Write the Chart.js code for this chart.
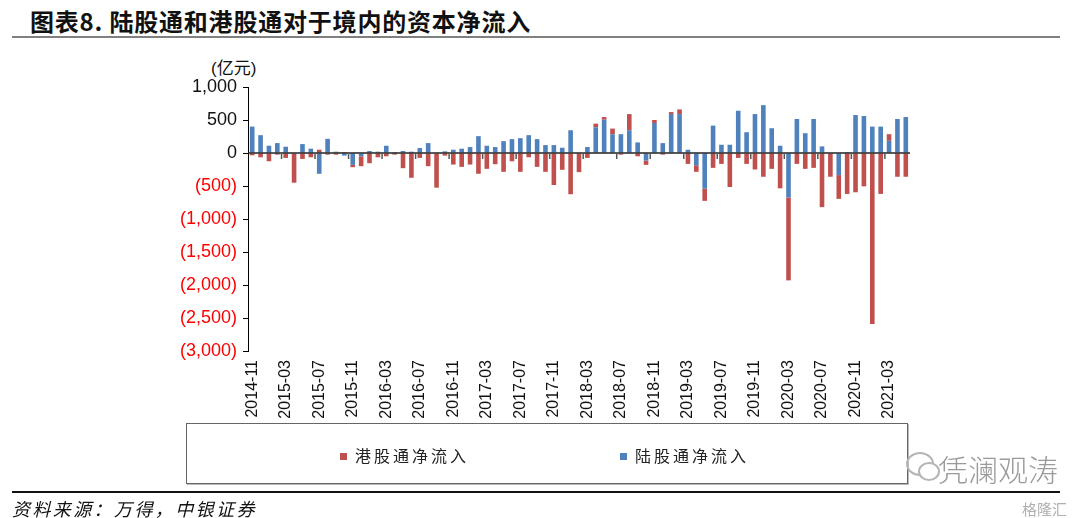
<!DOCTYPE html>
<html>
<head>
<meta charset="utf-8">
<script src="https://cdn.jsdelivr.net/npm/chart.js@4.4.0/dist/chart.umd.min.js"></script>
<style>
body { margin: 0; width: 1080px; height: 518px; background: #fff; position: relative; overflow: hidden; font-family: "Noto Sans CJK SC", sans-serif; }
#myChart { position: absolute; left: 0; top: 0; }
.title { position: absolute; left: 30px; top: 3px; font-size: 24px; font-weight: bold; letter-spacing: 0.8px; color: #111; }
.rule-top { position: absolute; left: 12px; top: 36px; width: 1048px; height: 2px; background: #808080; }
.unit { position: absolute; left: 211px; top: 54px; font-size: 17px; font-family: "Liberation Sans", "Noto Sans CJK SC", sans-serif; color: #111; }
.legend-box { position: absolute; left: 186px; top: 423px; width: 720px; height: 59px; border: 1px solid #666; box-shadow: 1px 1px 0 #bbb; }
.legend-item { position: absolute; top: 443px; font-size: 16px; letter-spacing: 3px; color: #222; }
.legend-item i { display: inline-block; width: 7px; height: 7px; margin-right: 8px; vertical-align: 2px; }
.rule-bottom { position: absolute; left: 12px; top: 491px; width: 1048px; height: 2px; background: #111; }
.source { position: absolute; left: 12px; top: 495px; font-size: 18px; font-style: italic; letter-spacing: 2.4px; color: #111; }
.mark { position: absolute; left: 938px; top: 446px; font-size: 30px; color: #9a9a9a; font-weight: 300; }
.mark-icon { position: absolute; left: 906px; top: 452px; width: 24px; height: 20px; border: 2px solid #b5b5b5; border-radius: 50%; }
.mark-icon2 { position: absolute; left: 918px; top: 462px; width: 18px; height: 15px; border: 2px solid #b5b5b5; border-radius: 50%; background: #fff; }
.gelonghui { position: absolute; left: 1022px; top: 498px; font-size: 15px; color: #b0b0b0; }
</style>
</head>
<body>
<div class="title">图表8. 陆股通和港股通对于境内的资本净流入</div>
<div class="rule-top"></div>
<div class="unit">(亿元)</div>
<canvas id="myChart" width="1080" height="518"></canvas>
<div class="legend-box"></div>
<div class="legend-item" style="left:340px;"><i style="background:#C0504D"></i>港股通净流入</div>
<div class="legend-item" style="left:620px;"><i style="background:#4F81BD"></i>陆股通净流入</div>
<div class="rule-bottom"></div>
<div class="source">资料来源：万得，中银证券</div>
<div class="mark-icon"></div><div class="mark-icon2"></div>
<div class="mark">凭澜观涛</div>
<div class="gelonghui">格隆汇</div>
<script>
// months 2014-11 .. 2021-05
var months = [
    '2014-11', '2014-12',
    '2015-01', '2015-02', '2015-03', '2015-04', '2015-05', '2015-06', '2015-07', '2015-08', '2015-09', '2015-10', '2015-11', '2015-12',
    '2016-01', '2016-02', '2016-03', '2016-04', '2016-05', '2016-06', '2016-07', '2016-08', '2016-09', '2016-10', '2016-11', '2016-12',
    '2017-01', '2017-02', '2017-03', '2017-04', '2017-05', '2017-06', '2017-07', '2017-08', '2017-09', '2017-10', '2017-11', '2017-12',
    '2018-01', '2018-02', '2018-03', '2018-04', '2018-05', '2018-06', '2018-07', '2018-08', '2018-09', '2018-10', '2018-11', '2018-12',
    '2019-01', '2019-02', '2019-03', '2019-04', '2019-05', '2019-06', '2019-07', '2019-08', '2019-09', '2019-10', '2019-11', '2019-12',
    '2020-01', '2020-02', '2020-03', '2020-04', '2020-05', '2020-06', '2020-07', '2020-08', '2020-09', '2020-10', '2020-11', '2020-12',
    '2021-01', '2021-02', '2021-03', '2021-04', '2021-05'
];

// 陆股通净流入 (亿元)
var northbound = [
    400, 270,
    110, 150, 95, -15, 135, 65, -315, 215, 20, -40, -180, -50,
    30, 20, 110, 15, 30, 20, 75, 150, 0, 25, 50, 65,
    90, 255, 110, 90, 180, 210, 225, 270, 210, 120, 120, 80,
    345, -10, 90, 390, 505, 285, 285, 345, 160, -115, 455, 150,
    590, 590, 50, -185, -540, 415, 125, 125, 640, 315, 590, 725,
    375, 110, -675, 515, 300, 515, 100, -10, -335, 15, 575, 560,
    400, 400, 185, 515, 545
];

// 港股通净流入 (亿元)
var southbound = [
    -35, -65,
    -125, -25, -75, -435, -90, -65, 50, -25, -25, 15, -35, -150,
    -155, -65, -50, -25, -230, -375, -75, -200, -525, -40, -175, -210,
    -175, -315, -240, -170, -285, -125, -285, -65, -210, -285, -485, -255,
    -625, -280, -75, 55, 40, 85, -25, 245, -50, -65, 45, -25,
    30, 70, -165, -100, -185, -225, -165, -515, -75, -165, -250, -360,
    -240, -535, -1255, -165, -240, -225, -820, -350, -360, -620, -595, -505,
    -2590, -620, 100, -360, -360
];

var yMin = -3000;
var yMax = 1000;
var yStep = 500;
var labelEvery = 4;

function fmt(v) {
    var s = Math.abs(v).toLocaleString('en-US');
    return v < 0 ? '(' + s + ')' : s;
}

// zero line + category tick marks (Excel style)
var zeroAxis = {
    id: 'zeroAxis',
    afterDatasetsDraw: function(chart) {
        var x = chart.scales.x, y = chart.scales.y, ctx = chart.ctx;
        var y0 = y.getPixelForValue(0);
        var step = x.getPixelForValue(1) - x.getPixelForValue(0);
        ctx.save();
        ctx.strokeStyle = '#222';
        ctx.lineWidth = 1.5;
        ctx.beginPath();
        ctx.moveTo(x.left, y0);
        ctx.lineTo(x.right, y0);
        ctx.stroke();
        ctx.strokeStyle = '#555';
        for (var i = labelEvery; i < months.length; i += labelEvery) {
            var px = x.getPixelForValue(i) - step / 2;
            ctx.beginPath();
            ctx.moveTo(px, y0);
            ctx.lineTo(px, y0 + 6);
            ctx.stroke();
        }
        ctx.restore();
    }
};

var ctx = document.getElementById('myChart');
var myChart = new Chart(ctx, {
    type: 'bar',
    data: {
        labels: months,
        datasets: [
            {
                label: '陆股通净流入',
                data: northbound,
                backgroundColor: '#4F81BD',
                barPercentage: 0.55,
                categoryPercentage: 1.0
            },
            {
                label: '港股通净流入',
                data: southbound,
                backgroundColor: '#C0504D',
                barPercentage: 0.55,
                categoryPercentage: 1.0
            }
        ]
    },
    plugins: [zeroAxis],
    options: {
        responsive: false,
        animation: false,
        layout: { padding: { left: 0, top: 87, right: 170, bottom: 0 } },
        plugins: {
            legend: { display: false },
            tooltip: { enabled: false }
        },
        scales: {
            x: {
                stacked: true,
                grid: { display: false, drawTicks: false },
                border: { display: false },
                afterFit: function(scale) { scale.height = 167; },
                ticks: {
                    autoSkip: false,
                    minRotation: 90,
                    maxRotation: 90,
                    padding: 9,
                    color: '#111',
                    font: { family: 'Liberation Sans', size: 16 },
                    callback: function(value, index) {
                        return index % labelEvery === 0 ? this.getLabelForValue(value) : null;
                    }
                }
            },
            y: {
                stacked: true,
                min: yMin,
                max: yMax,
                afterFit: function(scale) { scale.width = 248; },
                border: { display: true, color: '#000', width: 1 },
                grid: { drawOnChartArea: false, tickLength: 5, tickColor: '#000' },
                ticks: {
                    stepSize: yStep,
                    padding: 6,
                    font: { family: 'Liberation Sans', size: 18 },
                    color: function(c) { return c.tick.value < 0 ? '#FF0000' : '#111'; },
                    callback: function(v) { return fmt(v); }
                }
            }
        }
    }
});
</script>
</body>
</html>
